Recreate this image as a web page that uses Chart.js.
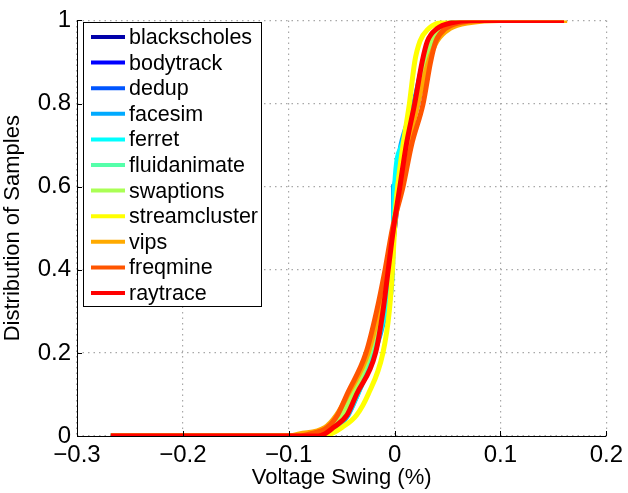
<!DOCTYPE html>
<html>
<head>
<meta charset="utf-8">
<script src="https://cdn.jsdelivr.net/npm/chart.js@4"></script>
<style>
  body { margin: 0; background: #fff; }
  #wrap { width: 628px; height: 493px; }
</style>
</head>
<body>
<div id="wrap"><canvas id="cdfChart" width="628" height="493"></canvas></div>
<script>
// Cumulative levels shared by every benchmark curve
const levels = [0, 0, 0.005, 0.02, 0.05, 0.1, 0.2, 0.3, 0.4, 0.5, 0.6, 0.7, 0.8, 0.9, 0.95, 0.98, 0.995, 1, 1];

// Voltage swing (%) reached at each level
const blackscholes  = [-0.268, -0.072, -0.066, -0.056, -0.045, -0.036, -0.021, -0.012, -0.005, 0.000, 0.004, 0.010, 0.019, 0.027, 0.033, 0.041, 0.054, 0.068, 0.16];
const bodytrack     = [-0.268, -0.075, -0.068, -0.057, -0.046, -0.037, -0.022, -0.013, -0.006, -0.001, 0.004, 0.011, 0.020, 0.028, 0.034, 0.043, 0.056, 0.070, 0.16];
const dedup         = [-0.268, -0.074, -0.067, -0.056, -0.047, -0.038, -0.022, -0.012, -0.005, -0.001, 0.002, 0.009, 0.022, 0.029, 0.035, 0.044, 0.058, 0.072, 0.16];
const facesim       = [-0.268, -0.070, -0.064, -0.054, -0.044, -0.035, -0.019, -0.008, -0.002, -0.001, -0.001, 0.006, 0.018, 0.027, 0.033, 0.042, 0.055, 0.070, 0.16];
const ferret        = [-0.268, -0.071, -0.065, -0.055, -0.045, -0.035, -0.020, -0.009, -0.003, -0.001, 0.000, 0.007, 0.019, 0.027, 0.033, 0.042, 0.055, 0.070, 0.16];
const fluidanimate  = [-0.268, -0.078, -0.070, -0.058, -0.048, -0.039, -0.023, -0.013, -0.006, -0.001, 0.003, 0.010, 0.021, 0.029, 0.035, 0.044, 0.057, 0.072, 0.16];
const swaptions     = [-0.268, -0.080, -0.072, -0.060, -0.050, -0.040, -0.024, -0.014, -0.006, -0.001, 0.003, 0.010, 0.020, 0.028, 0.034, 0.043, 0.056, 0.070, 0.16];
const streamcluster = [-0.268, -0.066, -0.060, -0.050, -0.036, -0.025, -0.011, -0.005, -0.002, 0.000, 0.003, 0.008, 0.014, 0.019, 0.024, 0.032, 0.043, 0.052, 0.16];
const vips          = [-0.268, -0.100, -0.090, -0.066, -0.055, -0.044, -0.025, -0.015, -0.008, -0.001, 0.006, 0.013, 0.022, 0.032, 0.040, 0.052, 0.072, 0.100, 0.163];
const freqmine      = [-0.268, -0.090, -0.080, -0.064, -0.054, -0.045, -0.027, -0.017, -0.009, -0.002, 0.008, 0.016, 0.027, 0.034, 0.039, 0.048, 0.062, 0.085, 0.16];
const raytrace      = [-0.268, -0.072, -0.066, -0.058, -0.045, -0.036, -0.018, -0.011, -0.006, -0.001, 0.005, 0.011, 0.019, 0.026, 0.031, 0.040, 0.055, 0.070, 0.16];

const names = ['blackscholes', 'bodytrack', 'dedup', 'facesim', 'ferret', 'fluidanimate',
               'swaptions', 'streamcluster', 'vips', 'freqmine', 'raytrace'];
const series = [blackscholes, bodytrack, dedup, facesim, ferret, fluidanimate,
                swaptions, streamcluster, vips, freqmine, raytrace];

// jet(11) colours
const colors = ['rgb(0,0,170)', 'rgb(0,0,255)', 'rgb(0,85,255)', 'rgb(0,170,255)', 'rgb(0,255,255)',
                'rgb(85,255,170)', 'rgb(170,255,85)', 'rgb(255,255,0)', 'rgb(255,170,0)',
                'rgb(255,85,0)', 'rgb(255,0,0)'];

const xTicks = [-0.3, -0.2, -0.1, 0, 0.1, 0.2];
const yTicks = [0, 0.2, 0.4, 0.6, 0.8, 1];

const FONT = '"Liberation Sans", Arial, Helvetica, sans-serif';

// later series are painted over earlier ones
const datasets = names.map((name, i) => ({
  label: name,
  data: series[i].map((x, j) => ({ x: x, y: levels[j] })),
  borderColor: colors[i],
  backgroundColor: colors[i],
  borderWidth: 5,
  pointRadius: 0,
  cubicInterpolationMode: 'monotone',
  fill: false,
  order: names.length - i
}));

// Axis lines, inward ticks and the boxed legend, drawn on top of the curves
const matlabAxes = {
  id: 'matlabAxes',
  afterDraw(chart) {
    const ctx = chart.ctx;
    const a = chart.chartArea;
    const xs = chart.scales.x, ys = chart.scales.y;
    ctx.save();
    ctx.strokeStyle = '#000';
    ctx.lineWidth = 1;
    ctx.beginPath();
    ctx.moveTo(a.left + 0.5, a.top);
    ctx.lineTo(a.left + 0.5, a.bottom + 0.5);
    ctx.lineTo(a.right, a.bottom + 0.5);
    xTicks.forEach(v => {
      const px = Math.round(xs.getPixelForValue(v)) + 0.5;
      ctx.moveTo(px, a.bottom);
      ctx.lineTo(px, a.bottom - 5);
    });
    yTicks.forEach(v => {
      const py = Math.round(ys.getPixelForValue(v)) + 0.5;
      ctx.moveTo(a.left, py);
      ctx.lineTo(a.left + 5, py);
    });
    ctx.stroke();

    // legend
    const lx = 83.5, ly = 22.5, lw = 178, lh = 284;
    ctx.fillStyle = '#fff';
    ctx.fillRect(lx, ly, lw, lh);
    ctx.strokeRect(lx, ly, lw, lh);
    ctx.font = '21.5px ' + FONT;
    ctx.textBaseline = 'middle';
    chart.data.datasets.forEach((ds, i) => {
      const cy = 37 + i * 25.6;
      ctx.strokeStyle = ds.borderColor;
      ctx.lineWidth = 4;
      ctx.beginPath();
      ctx.moveTo(91, cy);
      ctx.lineTo(125, cy);
      ctx.stroke();
      ctx.fillStyle = '#000';
      ctx.fillText(ds.label, 129, cy + 1);
    });
    ctx.restore();
  }
};

new Chart(document.getElementById('cdfChart'), {
  type: 'scatter',
  data: { datasets: datasets },
  options: {
    responsive: false,
    animation: false,
    showLine: true,
    layout: { padding: { top: 16, right: 18, left: 0, bottom: 0 } },
    plugins: { legend: { display: false }, tooltip: { enabled: false } },
    scales: {
      x: {
        type: 'linear',
        min: -0.3,
        max: 0.2,
        afterBuildTicks: s => { s.ticks = xTicks.map(v => ({ value: v })); },
        afterFit: s => { s.height = 57; },
        ticks: {
          color: '#000',
          font: { family: FONT, size: 24 },
          padding: 5,
          maxRotation: 0,
          callback: v => (v === 0 ? '0' : String(Math.round(v * 10) / 10).replace('-', '\u2212'))
        },
        grid: { color: '#a8a8a8', lineWidth: 1.2, drawTicks: false },
        border: { display: false, dash: [1.5, 4] },
        title: {
          display: true,
          text: 'Voltage Swing (%)',
          color: '#000',
          font: { family: FONT, size: 22 },
          padding: { top: 0, bottom: 2 }
        }
      },
      y: {
        type: 'linear',
        min: 0,
        max: 1,
        afterBuildTicks: s => { s.ticks = yTicks.map(v => ({ value: v })); },
        afterFit: s => { s.width = 77; },
        ticks: {
          color: '#000',
          font: { family: FONT, size: 24 },
          padding: 6,
          callback: v => String(Math.round(v * 10) / 10)
        },
        grid: { color: '#a8a8a8', lineWidth: 1.2, drawTicks: false },
        border: { display: false, dash: [1.5, 4] },
        title: {
          display: true,
          text: 'Distribution of Samples',
          color: '#000',
          font: { family: FONT, size: 22 },
          padding: { top: 0, bottom: 2 }
        }
      }
    }
  },
  plugins: [matlabAxes]
});
</script>
</body>
</html>
